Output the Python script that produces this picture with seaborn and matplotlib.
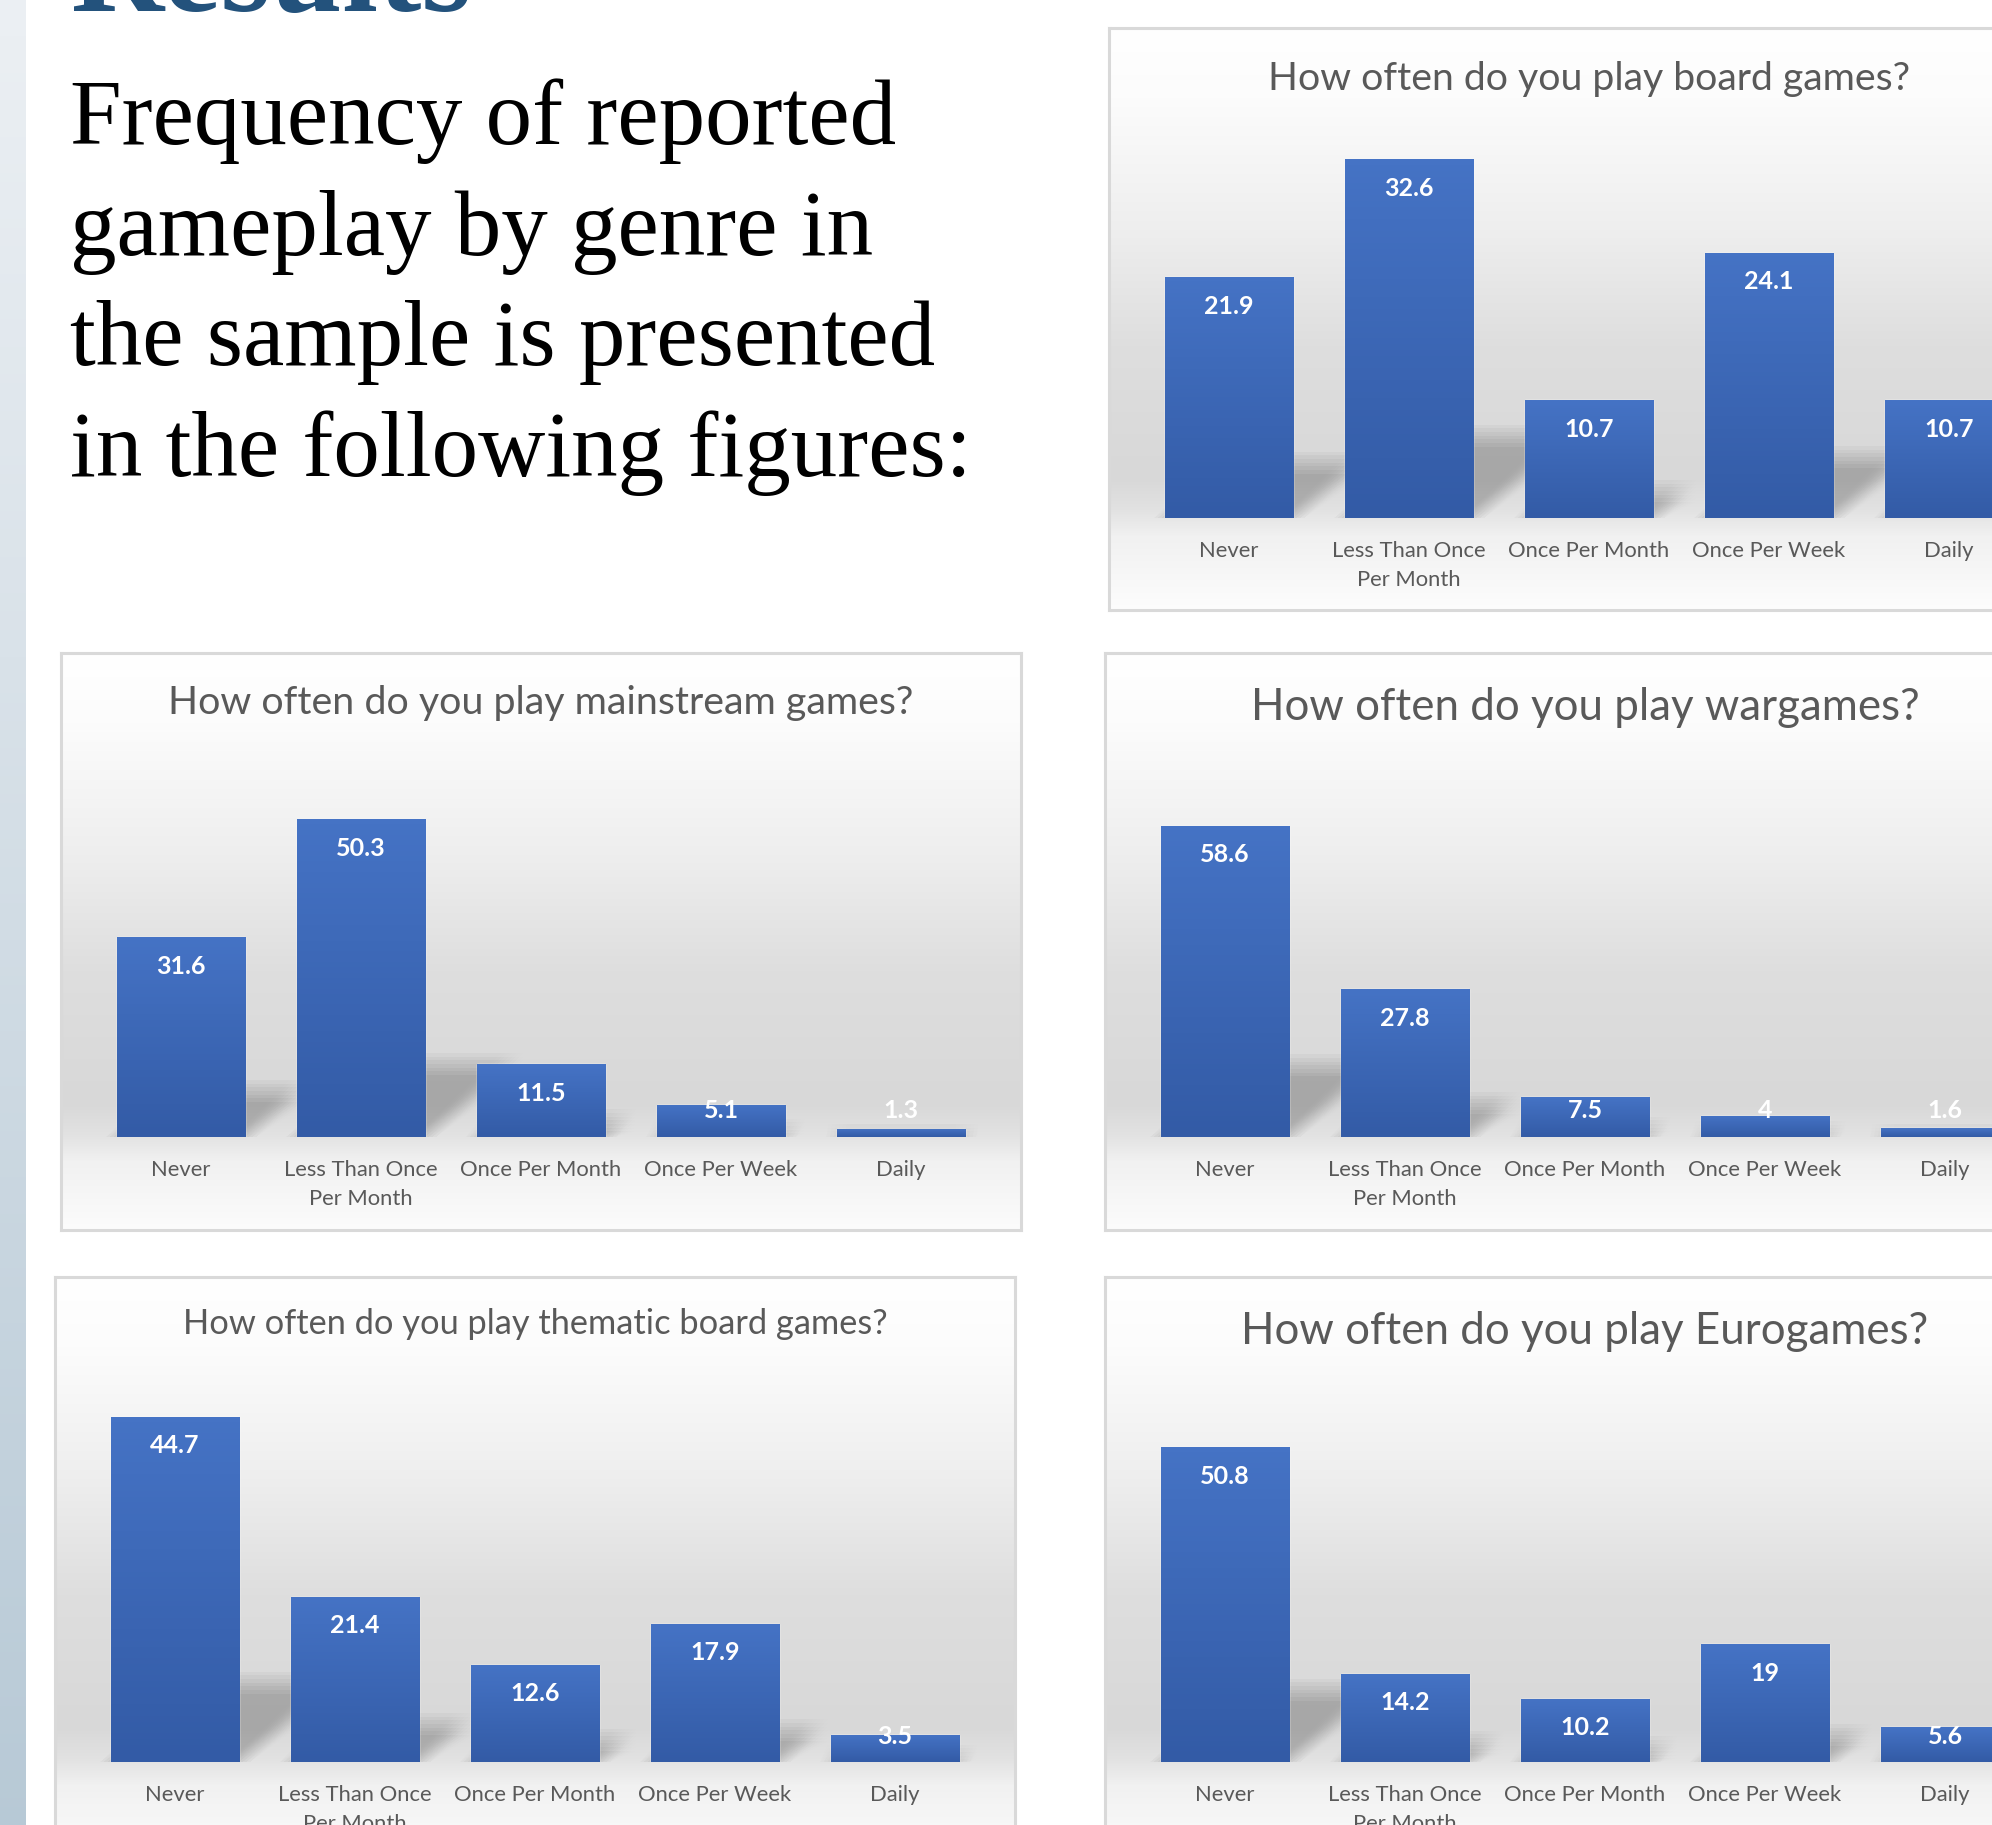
import numpy as np
import pandas as pd
import matplotlib
matplotlib.use("Agg")
import matplotlib.pyplot as plt
import seaborn as sns
from matplotlib.patches import Polygon

sns.set_theme(style="white")
plt.rcParams["font.family"] = ["Lato", "DejaVu Sans"]

# data
categories = ["Never", "Less Than Once\nPer Month", "Once Per Month",
              "Once Per Week", "Daily"]
board_games = [21.9, 32.6, 10.7, 24.1, 10.7]
mainstream_games = [31.6, 50.3, 11.5, 5.1, 1.3]
wargames = [58.6, 27.8, 7.5, 4, 1.6]
thematic_games = [44.7, 21.4, 12.6, 17.9, 3.5]
eurogames = [50.8, 14.2, 10.2, 19, 5.6]

body_lines = ["Frequency of reported", "gameplay by genre in",
              "the sample is presented", "in the following figures:"]

W, H = 1992, 1825
fig = plt.figure(figsize=(W / 100, H / 100), dpi=100)
fig.patch.set_facecolor("white")


def rect(x, y, w, h):
    # pixel box (top-left origin) -> figure fraction
    return [x / W, 1 - (y + h) / H, w / W, h / H]


# slide side strip
strip = fig.add_axes(rect(0, 0, 26, H))
g = np.linspace(0, 1, 200)
c0, c1 = np.array([0.925, 0.94, 0.955]), np.array([0.72, 0.79, 0.84])
strip.imshow((c0 + (c1 - c0) * g[:, None])[:, None, :], aspect="auto",
             extent=(0, 1, 0, 1))
strip.axis("off")

# slide text
fig.text(71 / W, 1 - 11 / H, "Results", family="Liberation Serif",
         fontweight="bold", fontsize=93, color="#23527c", va="baseline")
for i, line in enumerate(body_lines):
    fig.text(70 / W, 1 - (144 + 110.7 * i) / H, line, family="Liberation Serif",
             fontsize=67, color="black", va="baseline")

# gray gradient stops of the chart area (fraction of a 577px box)
bg_pos = [0.0, 0.12, 0.35, 0.55, 0.78, 0.835, 0.88, 1.0]
bg_val = [255, 252, 238, 222, 216, 226, 241, 252]

top_col = np.array([69, 115, 197]) / 255
bot_col = np.array([51, 91, 166]) / 255


def draw_panel(title, values, bx, by, bh, base, ah, ymax, tdy, tw):
    bg = fig.add_axes(rect(bx, by, 960, bh), zorder=0)
    ypx = np.arange(bh)
    gray = np.interp(ypx / 577, bg_pos, bg_val) / 255
    bg.imshow(np.repeat(gray[:, None, None], 3, axis=2), aspect="auto",
              extent=(0, 1, 0, 1))
    bg.set_xticks([])
    bg.set_yticks([])
    for sp in bg.spines.values():
        sp.set_color("#d9d9d9")
        sp.set_linewidth(2.2)

    ax = fig.add_axes(rect(bx + 30, by + base - ah, 900, ah), zorder=1)
    ax.patch.set_alpha(0)
    df = pd.DataFrame({"category": categories, "percent": values})
    sns.barplot(data=df, x="category", y="percent", ax=ax, color="#4472c4",
                width=0.712, saturation=1)
    ax.set_xlim(-0.5, 4.5)
    ax.set_ylim(0, ymax)
    sns.despine(ax=ax, left=True, bottom=True)
    ax.set_yticks([])
    ax.set_xlabel("")
    ax.set_ylabel("")
    ax.tick_params(axis="x", length=0, pad=16.5, labelsize=15.8,
                   labelcolor="#595959")
    for lab in ax.get_xticklabels():
        lab.set_linespacing(1.55)

    ppu = ah / ymax      # px per value unit
    ppx = 900 / 5        # px per category
    grad = top_col + (bot_col - top_col) * np.linspace(0, 1, 60)[:, None]
    for i, bar in enumerate(ax.patches):
        x0, w, h = bar.get_x(), bar.get_width(), bar.get_height()
        x1 = x0 + w
        # soft perspective shadow behind each bar
        hs = 0.23 * h
        s = hs * ppu * 1.2 / ppx
        for dx in np.linspace(-11, 11, 7):
            for dy in np.linspace(-11, 11, 7):
                ox, oy = dx / ppx, dy / ppu
                ax.add_patch(Polygon([(x0 + ox, 0), (x1 + ox, 0),
                                      (x1 + s + ox, hs + oy),
                                      (x0 + s + ox, hs + oy)],
                                     closed=True, facecolor="black",
                                     edgecolor="none", alpha=0.0045,
                                     zorder=0.5))
        bar.set_zorder(2)
        im = ax.imshow(grad[:, None, :], aspect="auto",
                       extent=(x0, x1, 0, h), zorder=2.5)
        im.set_clip_path(bar)
        ly = max(h - 29 / ppu, 26 / ppu)
        ax.text(x0 + w / 2, ly, f"{h:g}", ha="center", va="center",
                color="white", fontweight="bold", fontsize=18, zorder=3)
    ax.set_xlim(-0.5, 4.5)
    ax.set_ylim(0, ymax)

    t = fig.text((bx + 480) / W, 1 - (by + tdy) / H, title, ha="center",
                 va="center", color="#595959", fontsize=28)
    r = fig.canvas.get_renderer()
    t.set_fontsize(28 * tw / t.get_window_extent(r).width)


draw_panel("How often do you play board games?", board_games,
           1109, 28, 582, 490, 385, 35, 51, 642)
draw_panel("How often do you play mainstream games?", mainstream_games,
           61, 653, 577, 484, 379, 60, 50, 747)
draw_panel("How often do you play wargames?", wargames,
           1105, 653, 577, 484, 372, 70, 54, 668)
draw_panel("How often do you play thematic board games?", thematic_games,
           55, 1277, 620, 485, 386, 50, 47, 705)
draw_panel("How often do you play Eurogames?", eurogames,
           1105, 1277, 620, 485, 372, 60, 55, 686)

fig.savefig("out.png", dpi=100)
